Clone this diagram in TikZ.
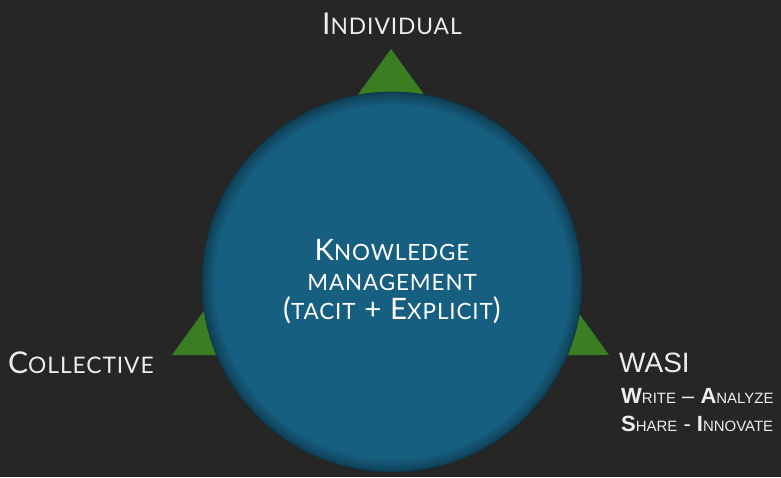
\documentclass[tikz,border=0pt]{standalone}
\usepackage{fontspec}
\setmainfont{Lato}[LetterSpace=4]
\newfontfamily\wasifont{Liberation Sans}
\usetikzlibrary{positioning}
\definecolor{kmback}{HTML}{262626}
\definecolor{kmblue}{HTML}{175F81}
\definecolor{kmedge}{HTML}{0F3F56}
\definecolor{kmgreen}{HTML}{3B7D23}
\definecolor{kmtext}{HTML}{EDEDED}
\pgfdeclareradialshading{kmglow}{\pgfpoint{0bp}{0bp}}{color(0bp)=(kmblue); color(23.2bp)=(kmblue); color(25bp)=(kmedge); color(50bp)=(kmedge)}
\makeatletter
\newcommand\sm[2][0.76]{{\@tempdima=\f@size pt\@tempdima=#1\@tempdima
  \fontsize{\strip@pt\@tempdima}{\baselineskip}\selectfont\MakeUppercase{#2}}}
\makeatother

\begin{document}
\begin{tikzpicture}[x=1pt,y=-1pt,
  lbl/.style={text=kmtext,inner sep=0pt,font=\fontsize{30}{34}\selectfont},
  wasitext/.style={text=kmtext,inner sep=0pt,align=left,font=\wasifont\fontsize{22}{28}\selectfont},
  km/.style={circle,minimum size=380pt,inner sep=0pt,shading=kmglow,
    draw=kmedge!80!black,line width=0.6pt,text=white,align=center,
    font=\fontsize{29.5}{29.5}\selectfont}]
% background
\fill[kmback] (0,0) rectangle (781,477);
\useasboundingbox (0,0) rectangle (781,477);
% triangles
\fill[kmgreen] (336,125) -- (391,49) -- (446,125) -- cycle;
\fill[kmgreen] (172,355) -- (227,279) -- (282,355) -- cycle;
\fill[kmgreen] (499,355) -- (554,279) -- (609,355) -- cycle;
% circle
\node[km] (km) at (392,282) {K\sm{nowledge}\\\sm{management}\\(\sm{tacit} + E\sm{xplicit})};
% labels
\node[lbl] (indiv) at (392,24) {I\sm{ndividual}};
\node[lbl,anchor=base west] (coll) at (8,373) {C\sm{ollective}};
\node[lbl,anchor=base west,font=\wasifont\fontsize{28}{34}\selectfont] (wasi) at (619,372) {WASI};
\node[wasitext,anchor=north west] (wasi words) at (621,388)
  {\textbf{W}\sm[0.68]{rite} – \textbf{A}\sm[0.68]{nalyze}\\\textbf{S}\sm[0.68]{hare} - \textbf{I}\sm[0.68]{nnovate}};
\end{tikzpicture}
\end{document}
